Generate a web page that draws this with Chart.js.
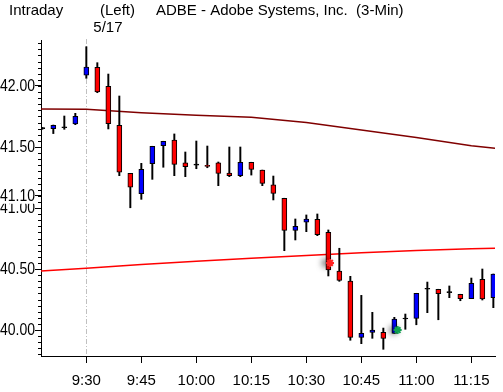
<!DOCTYPE html>
<html>
<head>
<meta charset="utf-8">
<title>ADBE Intraday</title>
<script src="https://cdn.jsdelivr.net/npm/chart.js@4.4.0/dist/chart.umd.min.js"></script>
<style>
  html, body { margin: 0; padding: 0; background: #fff; }
  #wrap { width: 503px; height: 392px; position: relative; }
</style>
</head>
<body>

<div id="wrap"><canvas id="myChart"></canvas></div>

<script>
// bar times (3-min bars), last 4 bars of the prior day then 5/17 session
var times = ['15:48','15:51','15:54','15:57',
  '9:30','9:33','9:36','9:39','9:42','9:45','9:48','9:51','9:54','9:57',
  '10:00','10:03','10:06','10:09','10:12','10:15','10:18','10:21','10:24','10:27',
  '10:30','10:33','10:36','10:39','10:42','10:45','10:48','10:51','10:54','10:57',
  '11:00','11:03','11:06','11:09','11:12','11:15','11:18','11:21'];
var sessionStart = 4;   // index of 9:30
var sessionLabel = '5/17';
var tickLabels = ['9:30','9:45','10:00','10:15','10:30','10:45','11:00','11:15'];
var priceTicks = [40.00, 40.50, 41.00, 41.10, 41.50, 42.00];

var opens  = [41.65, 41.65, 41.658, 41.689, 42.088, 42.153, 41.998, 41.678, 41.284, 41.117,
  41.363, 41.511, 41.557, 41.371, 41.352, 41.35, 41.371, 41.287, 41.265, 41.375,
  41.311, 41.189, 41.08, 40.817, 40.883, 40.907, 40.801, 40.484, 40.402, 39.94,
  39.981, 39.981, 39.973, 40.09, 40.096, 40.334, 40.334, 40.306, 40.293, 40.257,
  40.416, 40.265];
var highs  = [41.66, 41.68, 41.754, 41.776, 42.322, 42.191, 42.098, 41.918, 41.284, 41.366,
  41.506, 41.547, 41.607, 41.459, 41.549, 41.508, 41.377, 41.5, 41.5, 41.375,
  41.311, 41.262, 41.08, 40.91, 40.943, 40.951, 40.82, 40.67, 40.44, 40.284,
  40.145, 40.016, 40.104, 40.131, 40.301, 40.393, 40.334, 40.361, 40.293, 40.426,
  40.5, 40.459];
var lows   = [41.645, 41.61, 41.645, 41.683, 42.063, 41.945, 41.648, 41.265, 41.002, 41.071,
  41.235, 41.334, 41.265, 41.257, 41.322, 41.33, 41.183, 41.257, 41.257, 41.27,
  41.183, 41.066, 40.65, 40.738, 40.806, 40.773, 40.443, 40.399, 39.916, 39.888,
  39.932, 39.842, 39.973, 40.006, 40.043, 40.142, 40.084, 40.265, 40.24, 40.257,
  40.246, 40.183];
var closes = [41.65, 41.678, 41.658, 41.752, 42.156, 41.951, 41.691, 41.293, 41.17, 41.317,
  41.506, 41.547, 41.358, 41.339, 41.352, 41.34, 41.284, 41.265, 41.375, 41.317,
  41.202, 41.12, 40.817, 40.85, 40.91, 40.781, 40.492, 40.407, 39.94, 39.973,
  40.0, 39.932, 40.09, 40.09, 40.301, 40.334, 40.298, 40.306, 40.257, 40.383,
  40.254, 40.459];

// overlay lines, read at a few bar positions
var slowX = [-1, 4, 9, 14, 19, 24, 29, 34, 39, 42];
var slowY = [41.811, 41.81, 41.781, 41.761, 41.743, 41.70, 41.64, 41.577, 41.511, 41.48];
var fastX = [-1, 4, 9, 14, 19, 24, 29, 34, 39, 42];
var fastY = [40.478, 40.506, 40.536, 40.563, 40.588, 40.611, 40.633, 40.652, 40.666, 40.672];

// event markers
var eventX = [26.15, 32.3];
var eventY = [40.55, 40.0];
var eventColors = ['#ff2020', '#10a050'];

var FONT = 'Liberation Sans, Arial, sans-serif';

var wicks = [], bodies = [], bodyColors = [];
for (var i = 0; i < times.length; i++) {
  wicks.push({x: i, y: [lows[i], highs[i]]});
  bodies.push({x: i, y: [opens[i], closes[i]]});
  var d = closes[i] - opens[i];
  bodyColors.push(Math.abs(d) < 0.005 ? '#000000' : (d > 0 ? '#0000ff' : '#ff0000'));
}
var slowData = slowX.map(function(x, k){ return {x: x, y: slowY[k]}; });
var fastData = fastX.map(function(x, k){ return {x: x, y: fastY[k]}; });
var eventData = eventX.map(function(x, k){ return {x: x, y: eventY[k]}; });

var extras = {
  id: 'extras',
  beforeDatasetsDraw: function(chart) {
    var ctx = chart.ctx, a = chart.chartArea;
    var px = Math.round(chart.scales.x.getPixelForValue(sessionStart)) + 0.5;
    ctx.save();
    ctx.strokeStyle = '#c0c0c0';
    ctx.lineWidth = 1;
    ctx.setLineDash([5, 2, 1, 2]);
    ctx.beginPath();
    ctx.moveTo(px, a.top - 1);
    ctx.lineTo(px, a.bottom);
    ctx.stroke();
    ctx.restore();
  },
  beforeDatasetDraw: function(chart, args) {
    if (args.index === 4) {
      var ctx = chart.ctx;
      ctx.save();
      ctx.shadowColor = 'rgba(0,0,0,0.7)';
      ctx.shadowBlur = 6;
      ctx.shadowOffsetX = -4;
    }
  },
  afterDatasetDraw: function(chart, args) {
    if (args.index === 4) chart.ctx.restore();
  },
  afterDraw: function(chart) {
    var ctx = chart.ctx, y = chart.scales.y, a = chart.chartArea;
    ctx.save();
    // minor ticks every 0.05
    ctx.strokeStyle = '#000';
    ctx.lineWidth = 1;
    ctx.beginPath();
    for (var v = 39.80; v <= y.max + 0.001; v += 0.05) {
      var py = Math.round(y.getPixelForValue(v)) + 0.5;
      ctx.moveTo(a.left - 3, py);
      ctx.lineTo(a.left, py);
    }
    ctx.stroke();
    // price labels: tall, condensed to fit left of the ticks
    ctx.font = '16px ' + FONT;
    ctx.textAlign = 'right';
    ctx.textBaseline = 'middle';
    priceTicks.forEach(function(p) {
      var py = y.getPixelForValue(p);
      ctx.fillStyle = '#fff';
      ctx.fillRect(0, py - 8, a.left - 6, 16);
      ctx.fillStyle = '#000';
      ctx.fillText(p.toFixed(2), a.left - 6, py + 1, a.left - 6);
    });
    // header texts
    ctx.textAlign = 'left';
    ctx.textBaseline = 'alphabetic';
    ctx.font = '15px ' + FONT;
    ctx.fillText('Intraday', 9, 15);
    ctx.fillText('(Left)', 100, 15);
    ctx.fillText('ADBE - Adobe Systems, Inc.  (3-Min)', 156, 15);
    ctx.fillText(sessionLabel, chart.scales.x.getPixelForValue(sessionStart) + 7, 32);
    ctx.restore();
  }
};

var ctx = document.getElementById('myChart').getContext('2d');
var myChart = new Chart(ctx, {
  type: 'bar',
  data: {
    datasets: [
      { type: 'line', data: slowData, borderColor: '#800000', borderWidth: 1.5,
        pointRadius: 0, order: 5 },
      { type: 'line', data: fastData, borderColor: '#ff0000', borderWidth: 1.5,
        pointRadius: 0, order: 4 },
      { data: wicks, backgroundColor: '#000000', barThickness: 1.3, grouped: false, order: 3 },
      { data: bodies, backgroundColor: bodyColors, borderColor: '#000000', borderWidth: 1,
        borderSkipped: false, barThickness: 5, minBarLength: 1, grouped: false, order: 2 },
      { type: 'scatter', data: eventData, pointStyle: 'star', radius: 4, borderWidth: 2,
        borderColor: eventColors, backgroundColor: eventColors, order: 1 }
    ]
  },
  options: {
    responsive: true,
    maintainAspectRatio: false,
    animation: false,
    layout: { padding: { top: 40, right: 8, left: 0, bottom: 0 } },
    plugins: { legend: { display: false }, tooltip: { enabled: false } },
    scales: {
      x: {
        type: 'linear',
        min: sessionStart - 4.12,
        max: sessionStart + 37.15,
        offset: false,
        grid: { drawOnChartArea: false, offset: false, tickLength: 7, color: '#000' },
        border: { color: '#000', width: 1 },
        afterBuildTicks: function(scale) {
          scale.ticks = tickLabels.map(function(t){ return {value: times.indexOf(t)}; });
        },
        afterFit: function(scale) { scale.height = 36; },
        ticks: {
          autoSkip: false, maxRotation: 0, padding: 9, color: '#000',
          font: { family: FONT, size: 15 },
          callback: function(v) { return times[v]; }
        }
      },
      y: {
        type: 'linear',
        position: 'left',
        min: 39.787,
        max: 42.377,
        grid: { drawOnChartArea: false, tickLength: 6, color: '#000' },
        border: { color: '#000', width: 1 },
        afterBuildTicks: function(scale) {
          scale.ticks = priceTicks.map(function(v){ return {value: v}; });
        },
        afterFit: function(scale) { scale.width = 41; },
        ticks: { display: false }
      }
    }
  },
  plugins: [extras]
});
</script>

</body>
</html>
